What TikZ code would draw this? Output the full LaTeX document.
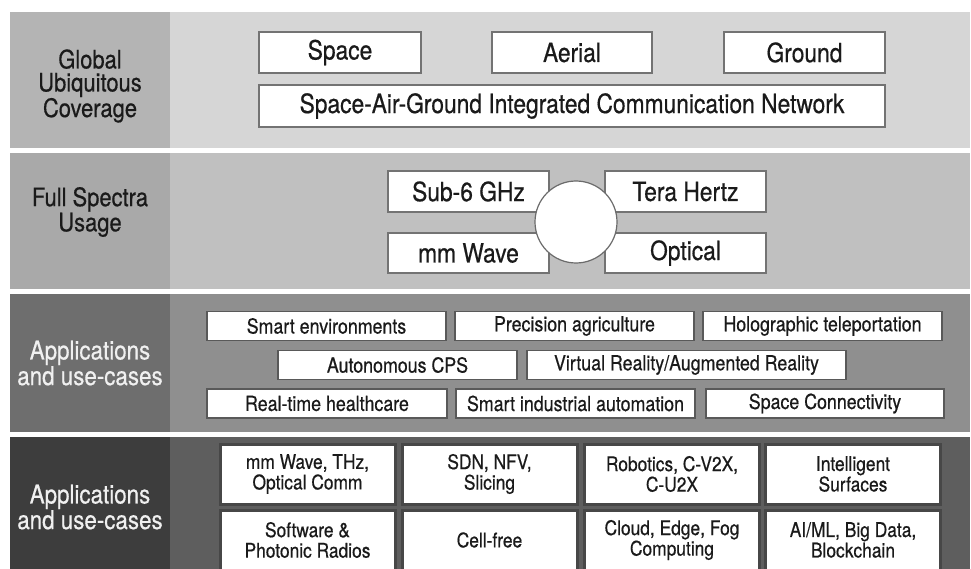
\documentclass[tikz,border=0pt]{standalone}
\usepackage{fontspec}
\setmainfont{TeX Gyre Heros}[FakeStretch=0.86,FakeBold=0.5]
\definecolor{bAl}{HTML}{B4B4B4}
\definecolor{bAr}{HTML}{D6D6D6}
\definecolor{bBl}{HTML}{A9A9A9}
\definecolor{bBr}{HTML}{C0C0C0}
\definecolor{bCl}{HTML}{6E6E6E}
\definecolor{bCr}{HTML}{8F8F8F}
\definecolor{bDl}{HTML}{3D3D3D}
\definecolor{bDr}{HTML}{5E5E5E}
\definecolor{txt}{HTML}{1A1A1A}
\begin{document}
\begin{tikzpicture}[x=1pt,y=-1pt,
  lblDark/.style={align=center,text=txt,font=\fontsize{25.5}{23}\selectfont},
  lblLight/.style={align=center,text=white!94!black,font=\fontsize{26}{23}\selectfont},
  bigbox/.style={draw=black!55,line width=1.2pt,fill=white,inner sep=0pt,text=txt,
     font=\fontsize{26.5}{28}\selectfont},
  appbox/.style={draw=black!65,line width=1.3pt,fill=white,inner sep=0pt,text=txt,
     minimum height=29pt,font=\fontsize{20.7}{22}\selectfont},
  techbox/.style={draw=black!72,line width=3pt,fill=white,inner sep=0pt,text=txt,
     minimum width=175pt,minimum height=60pt,align=center,font=\fontsize{20.2}{20.5}\selectfont},
  hub/.style={circle,draw=black!58,line width=1.2pt,fill=white,minimum size=82pt,inner sep=0pt}]
\useasboundingbox (0,0) rectangle (971,569);
\clip (0,0) rectangle (971,569);
\fill[white] (0,0) rectangle (971,569);
% bands
\fill[bAr] (10,12) rectangle (970,148);
\fill[bAl] (10,12) rectangle (170,148);
\fill[bBr] (10,153) rectangle (970,289);
\fill[bBl] (10,153) rectangle (170,289);
\fill[bCr] (10,294) rectangle (970,432);
\fill[bCl] (10,294) rectangle (170,432);
\fill[bDr] (10,437) rectangle (970,569);
\fill[bDl] (10,437) rectangle (170,569);
% labels
\node[lblDark] (l1) at (90,86) {Global\\Ubiquitous\\Coverage};
\node[lblDark] (l2) at (90,212) {Full Spectra\\Usage};
\node[lblLight] (l3) at (90,363) {Applications\\and use-cases};
\node[lblLight] (l4) at (90,507) {Applications\\and use-cases};
% band 1
\node[bigbox,minimum width=162pt,minimum height=41pt] (space) at (340,52.5) {Space};
\node[bigbox,minimum width=160pt,minimum height=41pt] (aerial) at (572,52.5) {Aerial};
\node[bigbox,minimum width=161pt,minimum height=41pt] (ground) at (804.5,52.5) {Ground};
\node[bigbox,minimum width=626pt,minimum height=42pt] (sagin) at (572,106) {Space-Air-Ground Integrated Communication Network};
% band 2
\node[bigbox,minimum width=161pt,minimum height=41pt] (sub6) at (468.5,191.5) {Sub-6 GHz};
\node[bigbox,minimum width=161pt,minimum height=40pt] (mmw) at (468.5,253) {mm Wave};
\node[bigbox,minimum width=161pt,minimum height=41pt] (thz) at (685.5,191.5) {Tera Hertz};
\node[bigbox,minimum width=161pt,minimum height=40pt] (opt) at (685.5,253) {Optical};
\node[hub] (hub) at (576,222) {};
% band 3
\node[appbox,minimum width=239pt] (senv) at (326.5,326) {Smart environments};
\node[appbox,minimum width=239pt] (pag) at (574.5,326) {Precision agriculture};
\node[appbox,minimum width=239pt] (holo) at (822.5,326) {Holographic teleportation};
\node[appbox,minimum width=239pt] (acps) at (397.5,365) {Autonomous CPS};
\node[appbox,minimum width=319pt] (vrar) at (686.5,365) {Virtual Reality/Augmented Reality};
\node[appbox,minimum width=240pt] (rth) at (327,403.5) {Real-time healthcare};
\node[appbox,minimum width=239pt] (sia) at (575.5,403.5) {Smart industrial automation};
\node[appbox,minimum width=238pt] (spc) at (825,403.5) {Space Connectivity};
% band 4
\node[techbox] (t11) at (307.5,474) {mm Wave, THz,\\Optical Comm};
\node[techbox] (t12) at (489.5,474) {SDN, NFV,\\Slicing};
\node[techbox] (t13) at (672,474) {Robotics, C-V2X,\\C-U2X};
\node[techbox] (t14) at (853,474) {Intelligent\\Surfaces};
\node[techbox] (t21) at (307.5,540) {Software \&\\Photonic Radios};
\node[techbox] (t22) at (489.5,540) {Cell-free};
\node[techbox] (t23) at (672,540) {Cloud, Edge, Fog\\Computing};
\node[techbox] (t24) at (853,540) {AI/ML, Big Data,\\Blockchain};
\end{tikzpicture}
\end{document}
